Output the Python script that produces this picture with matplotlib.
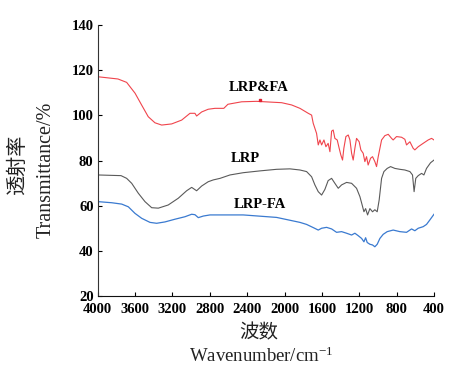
import numpy as np
import matplotlib
matplotlib.use("Agg")
import matplotlib.pyplot as plt

# wavenumber (cm-1) and transmittance (%)
wn_fa = [4000, 3783, 3690, 3600, 3530, 3459, 3387, 3315, 3208, 3101, 3012, 2959, 2941, 2887,
         2817, 2745, 2650, 2606, 2459, 2300, 2031, 1924, 1835, 1746, 1710, 1693, 1657, 1639,
         1621, 1603, 1578, 1557, 1533, 1514, 1496, 1479, 1461, 1436, 1415, 1397, 1379, 1365,
         1343, 1318, 1300, 1282, 1265, 1247, 1229, 1201, 1183, 1158, 1140, 1122, 1105, 1079,
         1058, 1033, 1015, 997, 961, 926, 890, 854, 837, 801, 747, 712, 694, 658, 623, 605,
         569, 516, 462, 426, 400]
tr_fa = [117.1, 116.1, 114.6, 109.8, 104.6, 99.4, 96.7, 95.7, 96.2, 97.9, 100.9, 100.9, 99.7, 101.5,
         102.7, 103.1, 103.1, 104.9, 106.0, 106.2, 105.6, 104.6, 103.1, 100.9, 100.1, 96.5, 92.0, 86.9,
         89.1, 86.9, 89.1, 86.1, 87.6, 83.9, 93.0, 93.5, 89.8, 89.1, 85.4, 82.4, 80.2, 85.4,
         90.6, 91.3, 89.1, 83.2, 80.2, 85.4, 89.8, 88.3, 84.7, 83.2, 79.5, 81.7, 78.0, 81.0,
         81.7, 79.5, 77.3, 81.7, 89.1, 91.0, 91.6, 89.8, 89.1, 90.6, 90.3, 89.4, 86.9, 88.3, 85.4, 84.7,
         86.1, 87.6, 89.1, 89.8, 89.1]

wn_lrp = [4000, 3750, 3690, 3636, 3565, 3494, 3422, 3351, 3245, 3137, 3048, 2994, 2941, 2887,
          2817, 2763, 2690, 2584, 2442, 2263, 2085, 1942, 1835, 1764, 1710, 1675, 1639, 1603,
          1568, 1533, 1496, 1461, 1425, 1389, 1336, 1282, 1229, 1193, 1169, 1150, 1132, 1111,
          1086, 1058, 1033, 1008, 987, 961, 936, 901, 865, 819, 765, 712, 658, 630, 613, 595,
          569, 533, 508, 480, 437, 400]
tr_lrp = [73.6, 73.3, 72.1, 69.9, 65.5, 61.8, 59.1, 58.9, 60.3, 63.3, 66.6, 68.1, 66.6, 68.7,
          70.6, 71.4, 72.1, 73.6, 74.6, 75.4, 76.1, 76.3, 75.8, 75.1, 72.8, 69.2, 66.2, 64.7,
          67.2, 71.1, 72.1, 69.9, 67.7, 69.2, 70.3, 69.9, 67.7, 64.0, 60.3, 57.3, 58.7, 55.9,
          58.7, 57.3, 58.2, 57.3, 62.5, 72.1, 75.1, 76.5, 77.3, 76.5, 76.1, 75.8, 75.1, 73.6, 66.2, 72.1,
          73.3, 74.3, 73.6, 76.5, 79.0, 80.2]

wn_lrpfa = [4000, 4000, 3850, 3743, 3672, 3601, 3529, 3440, 3369, 3280, 3173, 3066, 2994, 2959,
            2923, 2870, 2798, 2442, 2085, 1835, 1764, 1693, 1639, 1603, 1550, 1496, 1443, 1389,
            1336, 1282, 1247, 1211, 1175, 1150, 1132, 1115, 1086, 1058, 1033, 1008, 979, 944,
            901, 837, 765, 694, 640, 605, 569, 516, 480, 444, 400]
tr_lrpfa = [20.0, 61.8, 61.3, 60.7, 59.5, 56.6, 54.4, 52.6, 52.2, 52.8, 54.0, 55.1, 56.2, 56.0,
            54.7, 55.4, 55.9, 55.9, 54.8, 52.6, 51.7, 50.3, 49.2, 50.0, 50.4, 49.7, 48.2, 48.5,
            47.8, 47.0, 47.8, 46.7, 45.5, 44.0, 45.8, 43.7, 42.9, 42.6, 41.8, 42.9, 45.5, 47.3,
            48.5, 49.2, 48.5, 48.2, 49.7, 48.9, 50.0, 50.7, 51.7, 53.7, 56.2]

xticks = [4000, 3600, 3200, 2800, 2400, 2000, 1600, 1200, 800, 400]
yticks = [20, 40, 60, 80, 100, 120, 140]

serif = ['Liberation Serif', 'DejaVu Serif']
cjk = ['Noto Sans CJK SC', 'DejaVu Sans']
plt.rcParams['mathtext.fontset'] = 'custom'
plt.rcParams['mathtext.rm'] = 'Liberation Serif'
plt.rcParams['mathtext.default'] = 'rm'

fig = plt.figure(figsize=(4.51, 3.70), dpi=100)
ax = fig.add_axes([0.2166, 0.2, 0.7457, 0.7324])

ax.plot(wn_fa, tr_fa, color='#f0444c', lw=0.8)
ax.plot([2263], [106.6], 's', color='#e02030', ms=2)
ax.plot(wn_lrp, tr_lrp, color='#5a5a5a', lw=0.8)
ax.plot(wn_lrpfa, tr_lrpfa, color='#3a7ad0', lw=0.9)

ax.set_xlim(4000, 400)
ax.set_ylim(20, 140)
ax.set_xticks(xticks)
ax.set_yticks(yticks)
ax.tick_params(direction='in', length=3, width=0.8)
ax.tick_params(axis='x', pad=5)
ax.tick_params(axis='y', pad=3)
for lab in ax.get_xticklabels() + ax.get_yticklabels():
    lab.set_family(serif)
    lab.set_fontweight('bold')
    lab.set_fontsize(10.5)

ax.spines['top'].set_visible(False)
ax.spines['right'].set_visible(False)
ax.spines['left'].set_color('#333333')
ax.spines['bottom'].set_color('#111111')

ax.text(2280, 112.5, 'LRP&FA', family=serif, fontweight='bold', fontsize=10.5, ha='center', va='center')
ax.text(2422, 81.0, 'LRP', family=serif, fontweight='bold', fontsize=10.5, ha='center', va='center')
ax.text(2263, 60.3, 'LRP-FA', family=serif, fontweight='bold', fontsize=10.5, ha='center', va='center')

fig.text(18 / 451, 1 - 165 / 370, '透射率', family=cjk, fontsize=14.5, rotation=90,
         ha='center', va='center', color='#222222')
fig.text(46 / 451, 1 - 170 / 370, 'Transmittance/%', family=serif, fontsize=14.5, rotation=90,
         ha='center', va='center', color='#222222')
fig.text(259 / 451, 1 - 333 / 370, '波数', family=cjk, fontsize=14,
         ha='center', va='center', color='#222222')
fig.text(261 / 451, 1 - 356 / 370, 'Wavenumber/cm$^{-1}$', family=serif, fontsize=13.5,
         ha='center', va='center', color='#222222')

plt.savefig('out.png', dpi=100)
